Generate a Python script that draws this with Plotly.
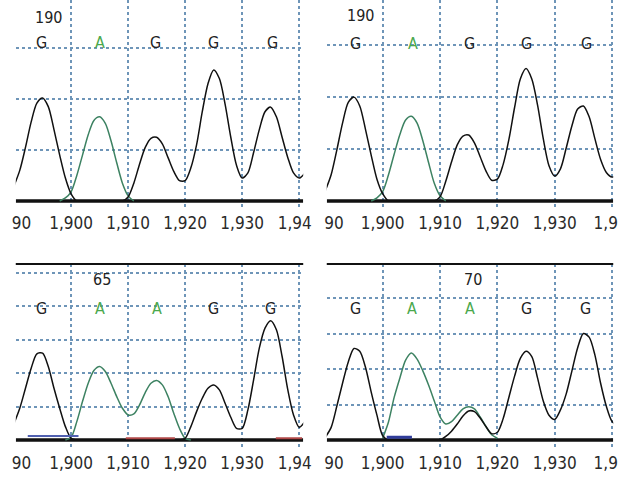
import plotly.graph_objects as go

# ---------------- data ----------------
X = list(range(1890, 1942))  # 1890..1941

# top-left panel (sample 1, position 190)
tl_black = [0.3, 0.6, 1.05, 1.55, 1.92, 2.02, 1.85, 1.4, 0.9, 0.45, 0.14, 0.0,
            0, 0, 0, 0, 0, 0, 0, 0,
            0.08, 0.35, 0.72, 1.05, 1.23, 1.25, 1.12, 0.85, 0.58, 0.4,
            0.4, 0.65, 1.1, 1.75, 2.3, 2.57, 2.4, 1.9, 1.25, 0.7,
            0.45, 0.55, 0.95, 1.4, 1.75, 1.84, 1.65, 1.25, 0.85, 0.55,
            0.45, 0.55]
tl_green_x = list(range(1898, 1912))
tl_green = [0.0, 0.06, 0.18, 0.5, 0.9, 1.3, 1.58, 1.65, 1.52, 1.18, 0.75, 0.35, 0.1, 0.0]

# top-right panel (sample 2, position 190)
tr_black = [0.2, 0.5, 0.98, 1.5, 1.9, 2.0, 1.83, 1.38, 0.88, 0.42, 0.14, 0.0,
            0, 0, 0, 0, 0, 0, 0, 0,
            0.08, 0.38, 0.75, 1.08, 1.25, 1.27, 1.12, 0.85, 0.58, 0.4,
            0.42, 0.7, 1.18, 1.8, 2.35, 2.55, 2.35, 1.85, 1.2, 0.68,
            0.48, 0.62, 1.02, 1.45, 1.77, 1.83, 1.62, 1.2, 0.8, 0.55,
            0.46, 0.5]
tr_green_x = list(range(1898, 1912))
tr_green = [0.0, 0.06, 0.18, 0.5, 0.9, 1.28, 1.56, 1.63, 1.5, 1.16, 0.74, 0.34, 0.1, 0.0]

# bottom-left panel (sample 1, position 65)
bl_black = [0.5, 0.95, 1.55, 2.15, 2.58, 2.6, 2.2, 1.55, 0.95, 0.4, 0.05, 0.0,
            0, 0, 0, 0, 0, 0, 0, 0,
            0, 0, 0, 0, 0, 0, 0, 0, 0, 0,
            0.05, 0.4, 0.85, 1.25, 1.55, 1.65, 1.5, 1.1, 0.68, 0.35,
            0.35, 0.9, 1.8, 2.75, 3.35, 3.57, 3.3, 2.5, 1.5, 0.75,
            0.38, 0.55]
bl_green_x = list(range(1899, 1922))
bl_green = [0.0, 0.08, 0.55, 1.15, 1.7, 2.08, 2.2, 2.05, 1.7, 1.3, 0.95, 0.75,
            0.78, 1.05, 1.42, 1.7, 1.78, 1.65, 1.3, 0.8, 0.35, 0.05, 0.0]

# bottom-right panel (sample 2, position 70)
br_black = [0.08, 0.35, 0.95, 1.6, 2.2, 2.58, 2.5, 2.05, 1.35, 0.7, 0.12, 0.0,
            0, 0, 0, 0, 0, 0, 0, 0,
            0.0, 0.1, 0.25, 0.45, 0.68, 0.82, 0.8, 0.62, 0.38, 0.18,
            0.22, 0.6, 1.2, 1.8, 2.3, 2.5, 2.35, 1.75, 1.1, 0.7,
            0.58, 0.85, 1.3, 1.95, 2.6, 3.0, 2.9, 2.4, 1.6, 0.95,
            0.52, 0.4]
br_green_x = list(range(1900, 1921))
br_green = [0.05, 0.5, 1.2, 1.75, 2.25, 2.45, 2.28, 1.95, 1.55, 1.1, 0.65, 0.45,
            0.52, 0.7, 0.88, 0.94, 0.88, 0.65, 0.38, 0.15, 0.05]

# base-call letters
tl_bases = ["G", "A", "G", "G", "G"]
tl_base_x = [1894.8, 1905.0, 1914.8, 1925.0, 1935.3]
tr_bases = ["G", "A", "G", "G", "G"]
tr_base_x = [1895.2, 1905.3, 1915.2, 1925.1, 1935.5]
bl_bases = ["G", "A", "A", "G", "G"]
bl_base_x = [1894.8, 1905.0, 1915.0, 1925.0, 1935.0]
br_bases = ["G", "A", "A", "G", "G"]
br_base_x = [1895.2, 1905.1, 1915.2, 1925.1, 1935.4]

pos_labels = ["190", "190", "65", "70"]

grid_x = [1900, 1910, 1920, 1930, 1940]
left_tickvals = [1891.3, 1900, 1910, 1920, 1930, 1939.2]
left_ticktext = ["90", "1,900", "1,910", "1,920", "1,930", "1,94"]
right_tickvals = [1891.5, 1900, 1910, 1920, 1930, 1938.9]
right_ticktext = ["90", "1,900", "1,910", "1,920", "1,930", "1,9"]

# ---------------- styles ----------------
W, H = 633, 478
BLACK = "#111111"
GREEN = "#3d8262"
A_GREEN = "#4aa84c"
GRID = "#6e95b8"
FONT = "DejaVu Sans Condensed, Liberation Sans Narrow, Liberation Sans, Arial"

fig = go.Figure()

panels = [
    dict(ax="", black=tl_black, gx=tl_green_x, g=tl_green, bases=tl_bases, bx=tl_base_x,
         by=3.1, lab=(1896.0, 3.6), xr=[1890.3, 1940.7], yr=[-0.137, 3.94],
         dom_x=[12, 305], dom_y=[0, 208], tv=left_tickvals, tt=left_ticktext, top=False),
    dict(ax="2", black=tr_black, gx=tr_green_x, g=tr_green, bases=tr_bases, bx=tr_base_x,
         by=3.04, lab=(1896.1, 3.58), xr=[1890.25, 1940.2], yr=[-0.135, 3.87],
         dom_x=[329, 621], dom_y=[0, 208], tv=right_tickvals, tt=right_ticktext, top=False),
    dict(ax="3", black=bl_black, gx=bl_green_x, g=bl_green, bases=bl_bases, bx=bl_base_x,
         by=3.95, lab=(1905.5, 4.8), xr=[1890.3, 1940.7], yr=[-0.24, 5.27],
         dom_x=[12, 305], dom_y=[264, 448], tv=left_tickvals, tt=left_ticktext, top=True),
    dict(ax="4", black=br_black, gx=br_green_x, g=br_green, bases=br_bases, bx=br_base_x,
         by=3.72, lab=(1915.7, 4.53), xr=[1890.25, 1940.2], yr=[-0.225, 4.96],
         dom_x=[329, 621], dom_y=[264, 448], tv=right_tickvals, tt=right_ticktext, top=True),
]

for i, p in enumerate(panels):
    xa = "x" + p["ax"]
    ya = "y" + p["ax"]
    # baseline
    fig.add_trace(go.Scatter(x=[p["xr"][0], p["xr"][1]], y=[0, 0], mode="lines",
                             line=dict(color=BLACK, width=3.5), xaxis=xa, yaxis=ya,
                             hoverinfo="skip", showlegend=False))
    fig.add_trace(go.Scatter(x=p["gx"], y=p["g"], mode="lines",
                             line=dict(color=GREEN, width=1.5, shape="spline", smoothing=0.8),
                             xaxis=xa, yaxis=ya, showlegend=False))
    fig.add_trace(go.Scatter(x=X, y=p["black"], mode="lines",
                             line=dict(color=BLACK, width=1.5, shape="spline", smoothing=0.8),
                             xaxis=xa, yaxis=ya, showlegend=False))
    for b, bx in zip(p["bases"], p["bx"]):
        fig.add_annotation(x=bx, y=p["by"], xref=xa, yref=ya, text=b, showarrow=False,
                           font=dict(family=FONT, size=16,
                                     color=A_GREEN if b == "A" else "#222222"))
    fig.add_annotation(x=p["lab"][0], y=p["lab"][1], xref=xa, yref=ya, text=pos_labels[i],
                       showarrow=False, font=dict(family=FONT, size=16, color="#222222"))

    key_x = "xaxis" + p["ax"]
    key_y = "yaxis" + p["ax"]
    fig.layout[key_x] = dict(
        domain=[p["dom_x"][0] / W, p["dom_x"][1] / W], range=p["xr"], anchor=ya,
        tickmode="array", tickvals=p["tv"], ticktext=p["tt"], showgrid=False,
        zeroline=False, showline=False, ticks="", ticklabelstandoff=3,
        tickfont=dict(family=FONT, size=17, color="#2a2a2a"),
        minor=dict(tickvals=grid_x, showgrid=True, gridcolor=GRID, gridwidth=1.5,
                   griddash="3px,3px", ticks=""),
    )
    fig.layout[key_y] = dict(
        domain=[1 - p["dom_y"][1] / H, 1 - p["dom_y"][0] / H], range=p["yr"], anchor=xa,
        tickmode="linear", tick0=0, dtick=1, showgrid=True, gridcolor=GRID, gridwidth=1.5,
        griddash="3px,3px", showticklabels=False, zeroline=False, showline=False, ticks="",
    )
    if p["top"]:
        fig.add_shape(type="line", xref="paper", yref="paper",
                      x0=p["dom_x"][0] / W, x1=p["dom_x"][1] / W,
                      y0=1 - p["dom_y"][0] / H, y1=1 - p["dom_y"][0] / H,
                      line=dict(color=BLACK, width=2))

# colored baseline fragments (other channels near zero)
fig.add_trace(go.Scatter(x=[1892.4, 1901.3], y=[0.12, 0.12], mode="lines",
                         line=dict(color="#5060b0", width=2), xaxis="x3", yaxis="y3",
                         showlegend=False))
fig.add_trace(go.Scatter(x=[1909.6, 1918.2], y=[0.05, 0.05], mode="lines",
                         line=dict(color="#b04848", width=2), xaxis="x3", yaxis="y3",
                         showlegend=False))
fig.add_trace(go.Scatter(x=[1935.9, 1940.5], y=[0.05, 0.05], mode="lines",
                         line=dict(color="#b04848", width=2), xaxis="x3", yaxis="y3",
                         showlegend=False))
fig.add_trace(go.Scatter(x=[1900.7, 1905.1], y=[0.08, 0.08], mode="lines",
                         line=dict(color="#303c9a", width=3), xaxis="x4", yaxis="y4",
                         showlegend=False))

fig.update_layout(width=W, height=H, margin=dict(l=0, r=0, t=0, b=0),
                  paper_bgcolor="white", plot_bgcolor="white", showlegend=False)

fig.write_html("out.html")
